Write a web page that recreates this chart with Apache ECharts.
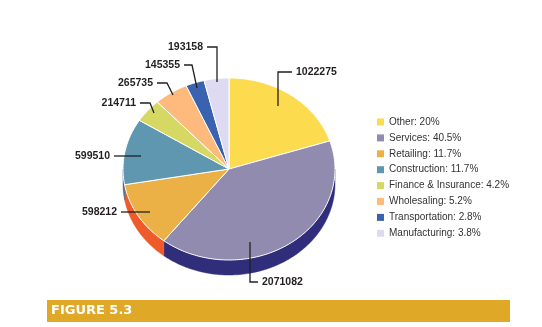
<!DOCTYPE html>
<html><head><meta charset="utf-8">
<script src="https://cdn.jsdelivr.net/npm/echarts@6/dist/echarts.min.js"></script>
<style>html,body{margin:0;padding:0;background:#fff}#c{width:542px;height:327px}</style>
</head><body><div id="c"></div>
<script>
const categories = ['Other', 'Services', 'Retailing', 'Construction', 'Finance & Insurance', 'Wholesaling', 'Transportation', 'Manufacturing'];
const values = [1022275, 2071082, 598212, 599510, 214711, 265735, 145355, 193158];
const figureTitle = 'FIGURE 5.3';

const colors = ['#FCDB4F', '#928BB0', '#EBB147', '#5F97B0', '#D5D862', '#FDBA7C', '#3B62AE', '#DEDAF2'];
const sideColors = ['#C9A52A', '#302D7B', '#EE5A2A', '#3E6F86', '#A4A83A', '#D58B4A', '#233F80', '#B0ABD0'];

const total = values.reduce((a, b) => a + b, 0);
function pct(v) {
  let s = (v / total * 100).toFixed(1);
  if (s.endsWith('.0')) s = s.slice(0, -2);
  return s + '%';
}

const PIE = { cx: 229, cy: 169, rx: 106, ry: 91, depth: 15 };
// label leader lines (layout only)
const labelLayout = [
  { line: [[278, 106], [278, 72], [292, 72]], text: [296, 72], align: 'left' },
  { line: [[250, 242], [250, 282], [258, 282]], text: [262, 282], align: 'left' },
  { line: [[150, 212], [121, 212]], text: [117, 212], align: 'right' },
  { line: [[141, 156], [114, 156]], text: [110, 156], align: 'right' },
  { line: [[154, 113], [150, 103], [140, 103]], text: [136, 103], align: 'right' },
  { line: [[173, 95], [167, 83], [157, 83]], text: [153, 83], align: 'right' },
  { line: [[197, 88], [192, 65], [184, 65]], text: [180, 65], align: 'right' },
  { line: [[217, 82], [217, 47], [207, 47]], text: [203, 47], align: 'right' }
];

function pt(theta, dy) {
  return [PIE.cx + PIE.rx * Math.sin(theta), PIE.cy - PIE.ry * Math.cos(theta) + dy];
}
function arc(a0, a1, dy) {
  const n = Math.max(2, Math.ceil((a1 - a0) / (Math.PI / 180)));
  const out = [];
  for (let k = 0; k <= n; k++) out.push(pt(a0 + (a1 - a0) * k / n, dy));
  return out;
}

const series = categories.map((name, i) => ({
  type: 'custom',
  name: name,
  coordinateSystem: 'none',
  data: [values[i]],
  itemStyle: { color: colors[i] },
  renderItem: function (params, api) {
    const v = api.value(0);
    let before = 0;
    for (let j = 0; j < i; j++) before += values[j];
    const a0 = before / total * 2 * Math.PI;
    const a1 = (before + v) / total * 2 * Math.PI;
    const children = [];
    const s0 = Math.max(a0, Math.PI / 2), s1 = Math.min(a1, 1.5 * Math.PI);
    if (s1 > s0) {
      const top = arc(s0, s1, 0), bot = arc(s0, s1, PIE.depth).reverse();
      children.push({ type: 'polygon', z2: 1, shape: { points: top.concat(bot) },
        style: { fill: sideColors[i], stroke: sideColors[i], lineWidth: 0.5 } });
    }
    children.push({ type: 'polygon', z2: 10, shape: { points: [[PIE.cx, PIE.cy]].concat(arc(a0, a1, 0)) },
      style: { fill: colors[i], stroke: '#ffffff', lineWidth: 1 } });
    const L = labelLayout[i];
    children.push({ type: 'polyline', z2: 20, shape: { points: L.line },
      style: { stroke: '#231f20', lineWidth: 1.3, fill: null } });
    children.push({ type: 'text', z2: 20, x: L.text[0], y: L.text[1],
      style: { text: String(v), fill: '#231f20', font: 'bold 10.5px "Liberation Sans"', align: L.align, verticalAlign: 'middle' } });
    return { type: 'group', children: children };
  }
}));

const chart = echarts.init(document.getElementById('c'), null, { renderer: 'canvas' });
chart.setOption({
  animation: false,
  backgroundColor: '#ffffff',
  color: colors,
  legend: {
    orient: 'vertical',
    left: 377,
    top: 116,
    padding: 0,
    icon: 'rect',
    itemWidth: 7,
    itemHeight: 7,
    itemGap: 3.9,
    selectedMode: false,
    data: categories,
    formatter: function (name) { return name + ': ' + pct(values[categories.indexOf(name)]); },
    textStyle: { fontSize: 10, color: '#333333', fontFamily: 'Liberation Sans', lineHeight: 12 }
  },
  graphic: [
    { type: 'rect', left: 47, top: 300, shape: { width: 463, height: 22 }, style: { fill: '#DFA826' } },
    { type: 'text', x: 51, y: 311, style: { text: figureTitle, fill: '#ffffff', font: 'bold 13px "DejaVu Sans"', verticalAlign: 'middle' } }
  ],
  series: series
});
</script>
</body></html>
